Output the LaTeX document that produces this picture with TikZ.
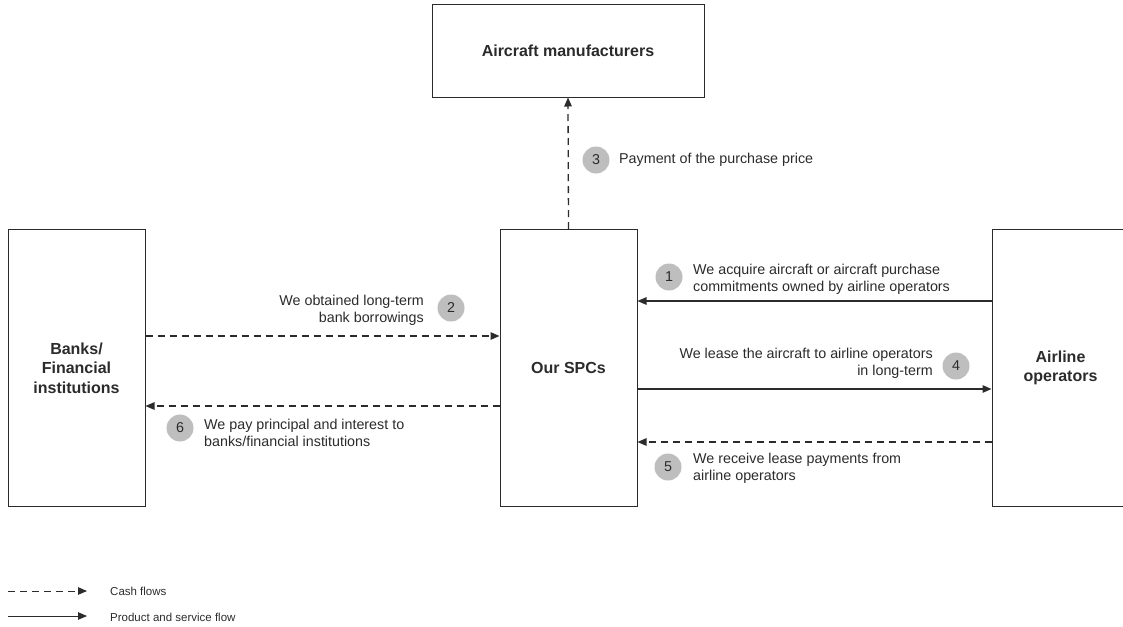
\documentclass[tikz,border=0pt]{standalone}
\usepackage{fontspec}
\setmainfont{Liberation Sans}
\usetikzlibrary{arrows.meta}
\definecolor{ink}{HTML}{2B2B2B}
\definecolor{badge}{HTML}{BEBEBE}
\tikzset{
  box/.style={draw=ink, line width=1pt, inner sep=0pt, align=center,
    font=\fontsize{16}{19.5}\selectfont\bfseries, text=ink},
  lbl/.style={inner sep=0pt, text=ink, font=\fontsize{14.3}{16.8}\selectfont},
  num/.style={circle, fill=badge, inner sep=0pt, minimum size=27pt, text=ink,
    font=\fontsize{14.3}{16.8}\selectfont},
  tip/.style={-{Triangle[length=9pt,width=7.5pt]}},
  solidflow/.style={draw=ink, line width=1.3pt, tip},
  cashflow/.style={draw=ink, line width=1.3pt, tip, dash pattern=on 7pt off 5pt},
  legend/.style={inner sep=0pt, text=ink, anchor=west, font=\fontsize{11.5}{14}\selectfont}
}
\begin{document}
\begin{tikzpicture}[x=1pt, y=-1pt]
  \clip (0,0) rectangle (1123,626);

  % parties
  \node[box, minimum width=272pt, minimum height=92pt] (mfr) at (568,51) {Aircraft manufacturers};
  \node[box, minimum width=137pt, minimum height=277pt] (bank) at (76.5,368) {Banks/\\Financial\\institutions};
  \node[box, minimum width=137pt, minimum height=277pt] (spc) at (568.5,368) {Our SPCs};
  \node[box, minimum width=137pt, minimum height=277pt] (air) at (1060.5,368) {Airline\\operators};

  % levels of the horizontal flows
  \coordinate (y1) at (0,301);
  \coordinate (y2) at (0,336);
  \coordinate (y4) at (0,389);
  \coordinate (y5) at (0,442);
  \coordinate (y6) at (0,406);

  % flows
  \draw[cashflow] (spc.north) -- (mfr.south);
  \draw[solidflow] (air.west |- y1) -- (spc.east |- y1);
  \draw[cashflow] (bank.east |- y2) -- (spc.west |- y2);
  \draw[solidflow] (spc.east |- y4) -- (air.west |- y4);
  \draw[cashflow] (air.west |- y5) -- (spc.east |- y5);
  \draw[cashflow] (spc.west |- y6) -- (bank.east |- y6);

  % step labels
  \node[num] (n3) at (596,160) {3};
  \node[lbl, anchor=west] (t3) at (619,160) {Payment of the purchase price};

  \node[num] (n1) at (669,277) {1};
  \node[lbl, anchor=west, align=left] (t1) at (693,279) {We acquire aircraft or aircraft purchase\\commitments owned by airline operators};

  \node[num] (n2) at (451,308) {2};
  \node[lbl, anchor=east, align=right] (t2) at (424,310) {We obtained long-term\\bank borrowings};

  \node[num] (n4) at (956,366) {4};
  \node[lbl, anchor=east, align=right] (t4) at (933,363) {We lease the aircraft to airline operators\\in long-term};

  \node[num] (n5) at (668,467) {5};
  \node[lbl, anchor=west, align=left] (t5) at (693,468) {We receive lease payments from\\airline operators};

  \node[num] (n6) at (180,428) {6};
  \node[lbl, anchor=west, align=left] (t6) at (204,433) {We pay principal and interest to\\banks/financial institutions};

  % legend
  \coordinate (k1a) at (8,591);
  \coordinate (k1b) at (87,591);
  \coordinate (k2a) at (8,616);
  \coordinate (k2b) at (87,616);
  \draw[cashflow, line width=1pt] (k1a) -- (k1b);
  \draw[solidflow, line width=1pt] (k2a) -- (k2b);
  \node[legend] (lg1) at (110,591) {Cash flows};
  \node[legend] (lg2) at (110,617) {Product and service flow};
\end{tikzpicture}
\end{document}
